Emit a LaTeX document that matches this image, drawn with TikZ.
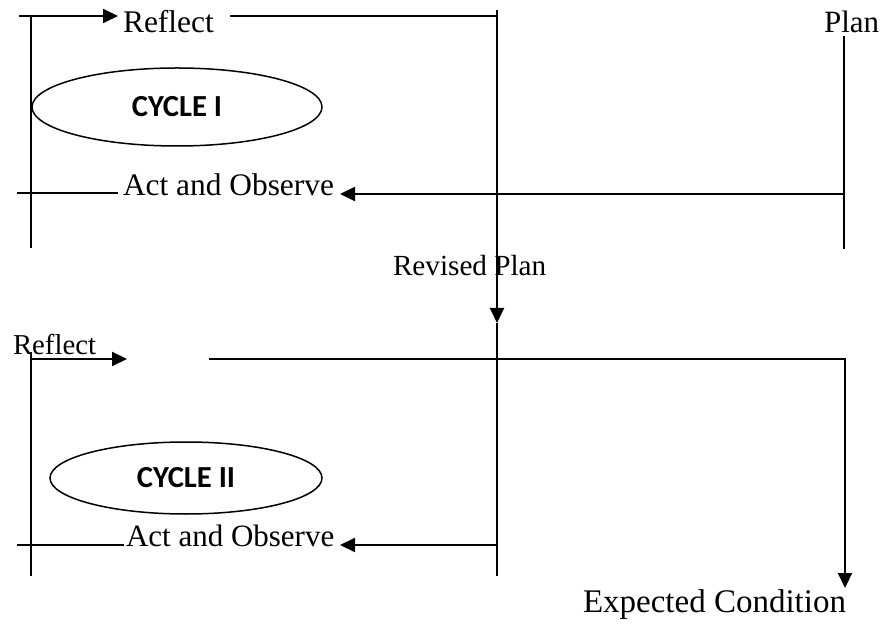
\documentclass[tikz,border=0pt]{standalone}
\usepackage{fontspec}
\setmainfont{Liberation Serif}
\newfontfamily\cyclefont{Carlito}
\usetikzlibrary{arrows.meta,shapes.geometric}
\begin{document}
\begin{tikzpicture}[x=0.5pt,y=-0.5pt, line width=1pt,
  lbl/.style={inner sep=0pt, anchor=base west},
  cyc/.style={draw, ellipse, line width=0.75pt, inner sep=0pt, font=\cyclefont\bfseries\fontsize{15.3}{18}\selectfont},
  arr/.style={-{Triangle[length=7.5pt,width=7pt]}}]
\useasboundingbox (0,0) rectangle (882,624);
% ---------- texts ----------
\node[lbl, font=\fontsize{15.75}{18}\selectfont] (refl1) at (122,33) {Reflect};
\node[lbl, font=\fontsize{15.5}{18}\selectfont] (plan) at (823,33) {Plan};
\node[lbl, font=\fontsize{15.7}{18}\selectfont] (act1) at (122,196) {Act and Observe};
\node[lbl, font=\fontsize{14.6}{18}\selectfont] (revplan) at (392,276) {Revised Plan};
\node[lbl, font=\fontsize{14.4}{18}\selectfont] (refl2) at (12,355) {Reflect};
\node[lbl, font=\fontsize{15.5}{18}\selectfont] (act2) at (125,546) {Act and Observe};
\node[lbl, font=\fontsize{16.5}{18}\selectfont] (expect) at (582,612) {Expected Condition};
\node[cyc, minimum width=145pt, minimum height=39pt] (cyc1) at (177,107) {CYCLE I};
\node[cyc, minimum width=136pt, minimum height=36pt] (cyc2) at (186,478) {CYCLE II};
% ---------- coordinates ----------
\coordinate (a1) at (19,16);
\coordinate (a2) at (118,16);
\coordinate (v1t) at (31,16);
\coordinate (v1b) at (31,248);
\coordinate (r1) at (230,16);
\coordinate (r1e) at (497,16);
\coordinate (m1t) at (497,10);
\coordinate (m1a) at (497,323);
\coordinate (m1b) at (497,576);
\coordinate (p1t) at (844,36);
\coordinate (p1b) at (844,249);
\coordinate (p1m) at (844,194);
\coordinate (ac1l) at (17,193);
\coordinate (ac1r) at (118,193);
\coordinate (ac1t) at (340,194);
\coordinate (v2t) at (31,352);
\coordinate (v2b) at (31,576);
\coordinate (b1) at (31,359);
\coordinate (b2) at (127,359);
\coordinate (r2) at (209,359);
\coordinate (r2c) at (845,359);
\coordinate (r2e) at (845,588);
\coordinate (ac2l) at (17,545);
\coordinate (ac2r) at (124,545);
\coordinate (ac2t) at (340,545);
\coordinate (m1m) at (497,545);
% ---------- connectors: cycle I ----------
\draw[arr] (a1) -- (a2);
\draw (v1t) -- (v1b);
\draw (r1) -- (r1e);
\draw[arr] (m1t) -- (m1a);
\draw (m1a) -- (m1b);
\draw (p1t) -- (p1b);
\draw (ac1l) -- (ac1r);
\draw[arr] (p1m) -- (ac1t);
% ---------- connectors: cycle II ----------
\draw (v2t) -- (v2b);
\draw[arr] (b1) -- (b2);
\draw[arr] (r2) -- (r2c) -- (r2e);
\draw (ac2l) -- (ac2r);
\draw[arr] (m1m) -- (ac2t);
\end{tikzpicture}
\end{document}
